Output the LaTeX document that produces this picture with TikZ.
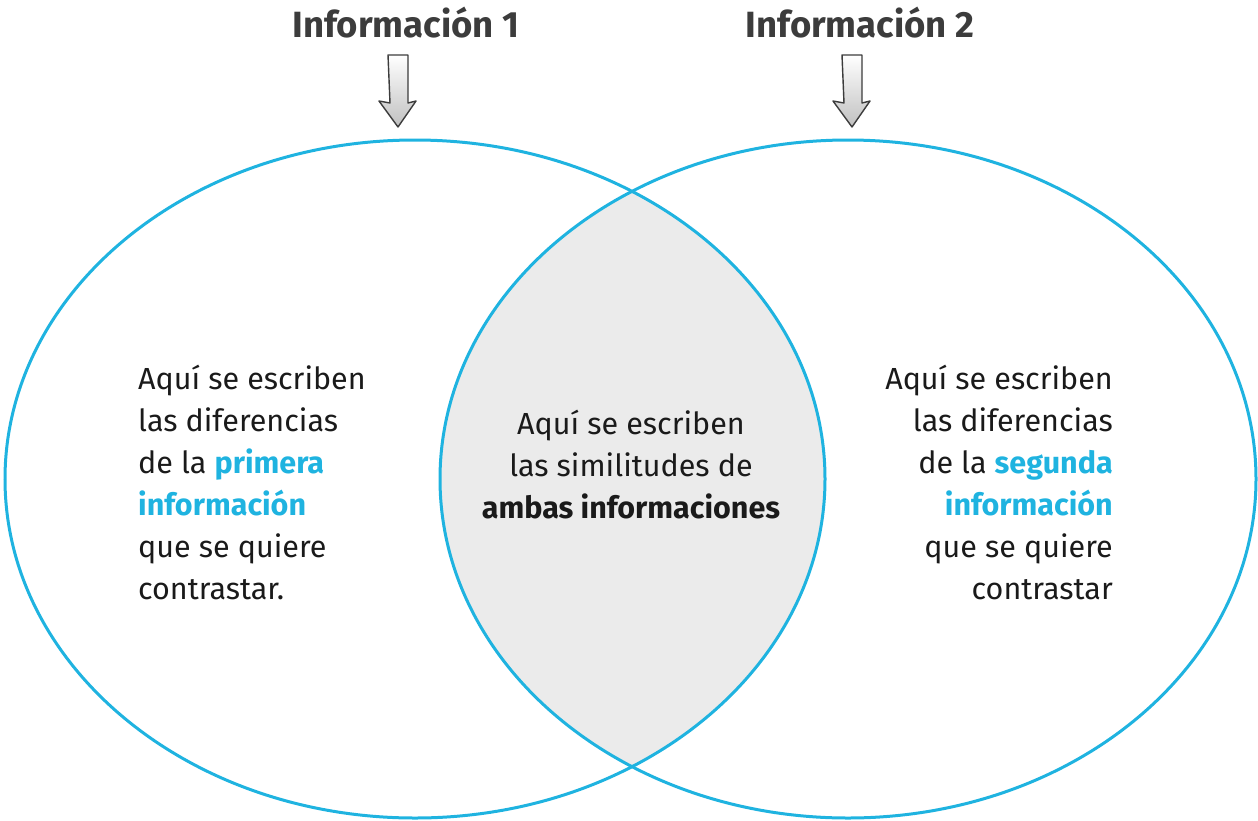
\documentclass[tikz,border=0pt]{standalone}
\usepackage{fontspec}
\setmainfont{Fira Sans}
\definecolor{vcyan}{HTML}{1FB3E0}
\definecolor{vgray}{HTML}{EBEBEB}
\definecolor{vtitle}{HTML}{3C3C3C}
\definecolor{vtext}{HTML}{1A1A1A}
\tikzset{
  ring/.style={draw=vcyan, line width=3pt},
  title/.style={font=\fontsize{36.5}{42}\selectfont\bfseries, text=vtitle, inner sep=0pt},
  body/.style={font=\fontsize{30.5}{42}\selectfont, text=vtext, inner sep=0pt},
  downarrow/.style={draw=vtitle, top color=white, bottom color=vgray!60!gray, line width=1.4pt, line join=round},
}
\newcommand{\hl}[1]{\textcolor{vcyan}{\bfseries #1}}
\begin{document}
\begin{tikzpicture}[x=1pt,y=-1pt]
\useasboundingbox (0,0) rectangle (1258,820);
% intersection shading
\begin{scope}
  \clip (415,479) ellipse [x radius=410pt, y radius=339pt];
  \fill[vgray] (848,479) ellipse [x radius=408pt, y radius=339pt];
\end{scope}
\draw[ring] (415,479) ellipse [x radius=410pt, y radius=339pt];
\draw[ring] (848,479) ellipse [x radius=408pt, y radius=339pt];
% titles
\node[title, anchor=base] (t1) at (406,37) {Información 1};
\node[title, anchor=base] (t2) at (860,37) {Información 2};
% arrows
\coordinate (a1) at (398,127);
\coordinate (a2) at (852,127);
\draw[downarrow] (a1) ++(-10,-72) -- ++(20,0) -- ++(0,48) -- ++(8,-2) -- (a1) -- ++(-19,-26) -- ++(11,2) -- cycle;
\draw[downarrow] (a2) ++(-10,-72) -- ++(20,0) -- ++(0,48) -- ++(8,-2) -- (a2) -- ++(-19,-26) -- ++(11,2) -- cycle;
% texts
\node[body, align=left, anchor=west] (left) at (138,482)
  {Aquí se escriben\\las diferencias\\de la \hl{primera}\\\hl{información}\\que se quiere\\contrastar.};
\node[body, align=center] (mid) at (631,465)
  {Aquí se escriben\\las similitudes de\\\textbf{ambas informaciones}};
\node[body, align=right, anchor=east] (right) at (1113,482)
  {Aquí se escriben\\las diferencias\\de la \hl{segunda}\\\hl{información}\\que se quiere\\contrastar};
\end{tikzpicture}
\end{document}
